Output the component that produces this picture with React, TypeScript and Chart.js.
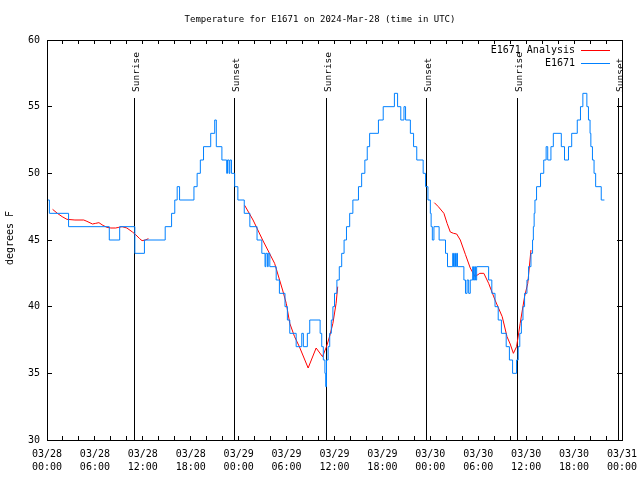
import React, { useEffect, useRef } from "react";
import { Chart, registerables } from "chart.js";

Chart.register(...registerables);

const FONT = "'DejaVu Sans Mono', monospace";
const chartTitle = "Temperature for E1671 on 2024-Mar-28 (time in UTC)";
const yAxisTitle = "degrees F";
const seriesNames = ["E1671 Analysis", "E1671"];

const tickDates = ["03/28", "03/28", "03/28", "03/28", "03/29", "03/29", "03/29", "03/29", "03/30", "03/30", "03/30", "03/30", "03/31"];
const tickTimes = ["00:00", "06:00", "12:00", "18:00", "00:00", "06:00", "12:00", "18:00", "00:00", "06:00", "12:00", "18:00", "00:00"];

// hours since 03/28 00:00 UTC
const sunHours = [10.92, 23.45, 35.0, 47.5, 58.9, 71.52];
const sunLabels = ["Sunrise", "Sunset", "Sunrise", "Sunset", "Sunrise", "Sunset"];

// observed E1671 (change points, deg F)
const obsHours = [
  0.0, 0.3, 2.7, 7.8, 9.1, 11.0, 12.2, 14.8, 15.6, 16.0, 16.3, 16.6, 18.4, 18.8, 19.2, 19.6, 20.5, 21.0, 21.2, 21.9,
  22.5, 22.6, 22.8, 22.9, 23.1, 23.5, 23.9, 24.7, 25.4, 26.3, 26.9, 27.3, 27.4, 27.6, 27.7, 27.9, 28.7, 29.1, 29.8, 30.1,
  30.4, 31.2, 31.9, 32.1, 32.6, 32.9, 34.2, 34.4, 34.6, 34.8, 34.9, 35.0, 35.2, 35.4, 35.6, 35.8, 36.0, 36.3, 36.6, 36.9,
  37.2, 37.5, 37.9, 38.3, 39.0, 39.4, 39.8, 40.1, 40.4, 41.5, 42.1, 43.5, 43.9, 44.3, 44.7, 44.9, 45.5, 45.9, 46.3, 47.1,
  47.4, 47.7, 48.0, 48.1, 48.25, 48.45, 49.1, 49.9, 50.15, 50.8, 50.9, 51.05, 51.15, 51.3, 51.4, 52.2, 52.4, 52.6, 52.8, 53.0,
  53.3, 53.4, 53.55, 53.65, 53.8, 55.3, 55.7, 56.1, 56.5, 56.9, 57.5, 57.9, 58.3, 58.8, 59.0, 59.2, 59.4, 59.6, 59.8, 60.1,
  60.3, 60.6, 60.8, 60.9, 61.0, 61.1, 61.3, 61.8, 62.2, 62.5, 62.7, 63.1, 63.4, 64.4, 64.8, 65.3, 65.7, 66.4, 66.8, 67.1,
  67.6, 67.8, 68.0, 68.1, 68.3, 68.5, 68.7, 69.4, 69.8,
];
const obsTemps = [
  48, 47, 46, 45, 46, 44, 45, 46, 47, 48, 49, 48, 49, 50, 51, 52, 53, 54, 52, 51,
  50, 51, 50, 51, 50, 49, 48, 47, 46, 45, 44, 43, 44, 43, 44, 43, 42, 41, 40, 39,
  38, 37, 38, 37, 38, 39, 38, 37, 36, 35, 34, 36, 37, 38, 39, 40, 41, 42, 43, 44,
  45, 46, 47, 48, 49, 50, 51, 52, 53, 54, 55, 56, 55, 54, 55, 54, 53, 52, 51, 50,
  49, 48, 47, 46, 45, 46, 45, 44, 43, 44, 43, 44, 43, 44, 43, 42, 41, 42, 41, 42,
  43, 42, 43, 42, 43, 42, 41, 40, 39, 38, 37, 36, 35, 36, 37, 38, 39, 40, 41, 42,
  43, 44, 45, 46, 47, 48, 49, 50, 51, 52, 51, 52, 53, 52, 51, 52, 53, 54, 55, 56,
  55, 54, 53, 52, 51, 50, 49, 48, 48,
];

// analysis (null = gap)
const anaHours = [
  0.7, 1.3, 1.9, 2.5, 3.5, 4.6, 5.0, 5.7, 6.1, 6.5, 7.0, 7.5, 8.0, 8.6, 9.0, 9.4, 10.0, 10.7, 11.1, 11.6, 11.9, 12.3, 12.7,
  18.0,
  24.75, 25.8, 27.0, 28.5, 29.5, 29.96, 30.4, 31.0, 31.6, 32.7, 33.7, 34.5, 35.0, 35.4, 35.8, 36.2, 36.4,
  42.0,
  48.5, 49.0, 49.7, 50.1, 50.5, 50.9, 51.3, 51.75, 52.4, 53.0, 53.6, 54.2, 54.7, 55.3, 56.1, 57.0, 57.6, 58.0, 58.4, 58.8,
  59.25, 59.8, 60.2, 60.6,
];
const anaTemps = [
  47.3, 47.0, 46.75, 46.55, 46.5, 46.5, 46.4, 46.2, 46.25, 46.3, 46.1, 45.95, 45.9, 45.9, 45.95, 46.0, 45.9, 45.6, 45.4, 45.1, 44.95, 45.0, 45.1,
  null,
  47.6, 46.5, 45.0, 43.25, 41.25, 40.25, 38.75, 37.75, 37.0, 35.4, 36.9, 36.25, 37.0, 37.8, 38.75, 40.25, 41.5,
  null,
  47.8, 47.5, 47.0, 46.25, 45.6, 45.5, 45.45, 45.0, 43.9, 42.9, 42.25, 42.5, 42.5, 41.75, 40.5, 39.25, 37.75, 37.2, 36.5, 37.0,
  38.75, 40.75, 41.75, 44.25,
];

const OBS_COLOR = "#0080ff";
const ANA_COLOR = "#ff0000";

const decorPlugin = {
  id: "decor",
  beforeDatasetsDraw(chart: any) {
    const { ctx, chartArea, scales } = chart;
    ctx.save();
    ctx.strokeStyle = "#000";
    ctx.lineWidth = 1;
    ctx.font = `9.5px ${FONT}`;
    ctx.fillStyle = "#000";
    sunHours.forEach((h, i) => {
      const x = Math.floor(scales.x.getPixelForValue(h)) + 0.5;
      ctx.beginPath();
      ctx.moveTo(x, 98);
      ctx.lineTo(x, chartArea.bottom);
      ctx.stroke();
      ctx.save();
      ctx.translate(x + 4.5, 92);
      ctx.rotate(-Math.PI / 2);
      ctx.textAlign = "left";
      ctx.textBaseline = "alphabetic";
      ctx.fillText(sunLabels[i], 0, 0);
      ctx.restore();
    });
    ctx.restore();
  },
  afterDraw(chart: any) {
    const { ctx, chartArea, scales } = chart;
    const { left, right, top, bottom } = chartArea;
    ctx.save();
    ctx.strokeStyle = "#000";
    ctx.lineWidth = 1;
    ctx.strokeRect(Math.floor(left) + 0.5, Math.floor(top) + 0.5, Math.round(right - left), Math.round(bottom - top));
    ctx.beginPath();
    for (let h = 2; h < 72; h += 2) {
      const x = Math.floor(scales.x.getPixelForValue(h)) + 0.5;
      ctx.moveTo(x, top);
      ctx.lineTo(x, top + 4);
      ctx.moveTo(x, bottom);
      ctx.lineTo(x, bottom - 4);
    }
    for (let v = 35; v < 60; v += 5) {
      const y = Math.floor(scales.y.getPixelForValue(v)) + 0.5;
      ctx.moveTo(left, y);
      ctx.lineTo(left + 5, y);
      ctx.moveTo(right, y);
      ctx.lineTo(right - 5, y);
    }
    ctx.stroke();

    ctx.fillStyle = "#000";
    ctx.font = `9px ${FONT}`;
    ctx.textAlign = "center";
    ctx.textBaseline = "middle";
    ctx.fillText(chartTitle, 320, 20);

    ctx.font = `10px ${FONT}`;
    ctx.save();
    ctx.translate(10, 238);
    ctx.rotate(-Math.PI / 2);
    ctx.fillText(yAxisTitle, 0, 0);
    ctx.restore();

    // legend
    const colors = [ANA_COLOR, OBS_COLOR];
    ctx.textAlign = "right";
    seriesNames.forEach((name, i) => {
      const y = 50 + i * 13;
      ctx.fillStyle = "#000";
      ctx.fillText(name, 575, y);
      ctx.strokeStyle = colors[i];
      ctx.beginPath();
      ctx.moveTo(581, y + 0.5);
      ctx.lineTo(610, y + 0.5);
      ctx.stroke();
    });
    ctx.restore();
  },
};

export default function App() {
  const canvasRef = useRef<HTMLCanvasElement | null>(null);

  useEffect(() => {
    if (!canvasRef.current) return;
    const obsData = obsHours.map((h, i) => ({ x: h, y: obsTemps[i] }));
    const anaData = anaHours.map((h, i) => ({ x: h, y: anaTemps[i] }));
    const chart = new Chart(canvasRef.current, {
      type: "line",
      data: {
        datasets: [
          {
            label: seriesNames[1],
            data: obsData,
            borderColor: OBS_COLOR,
            borderWidth: 1,
            pointRadius: 0,
            stepped: "before",
            fill: false,
          },
          {
            label: seriesNames[0],
            data: anaData as any,
            borderColor: ANA_COLOR,
            borderWidth: 1,
            pointRadius: 0,
            spanGaps: false,
            fill: false,
            tension: 0,
          },
        ],
      },
      options: {
        responsive: false,
        animation: false,
        layout: { padding: { left: 0, right: 18, top: 40, bottom: 0 } },
        plugins: { legend: { display: false }, tooltip: { enabled: false }, title: { display: false } },
        scales: {
          x: {
            type: "linear",
            min: 0,
            max: 72,
            grid: { display: false, drawTicks: false },
            border: { display: false },
            afterFit: (s: any) => {
              s.height = 40;
              s.paddingLeft = 0;
              s.paddingRight = 0;
            },
            ticks: {
              stepSize: 6,
              autoSkip: false,
              maxRotation: 0,
              padding: 8,
              color: "#000",
              font: { family: FONT, size: 10, lineHeight: 1.3 },
              callback: (value: any) => {
                const i = Math.round(Number(value) / 6);
                return [tickDates[i], tickTimes[i]];
              },
            },
          },
          y: {
            type: "linear",
            min: 30,
            max: 60,
            grid: { display: false, drawTicks: false },
            border: { display: false },
            afterFit: (s: any) => {
              s.width = 47;
              s.paddingTop = 0;
              s.paddingBottom = 0;
            },
            ticks: {
              stepSize: 5,
              padding: 7,
              color: "#000",
              font: { family: FONT, size: 10 },
            },
          },
        },
      },
      plugins: [decorPlugin],
    });
    return () => chart.destroy();
  }, []);

  return (
    <div style={{ position: "absolute", left: 0, top: 0, width: 640, height: 480, background: "#fff" }}>
      <canvas ref={canvasRef} width={640} height={480} />
    </div>
  );
}
